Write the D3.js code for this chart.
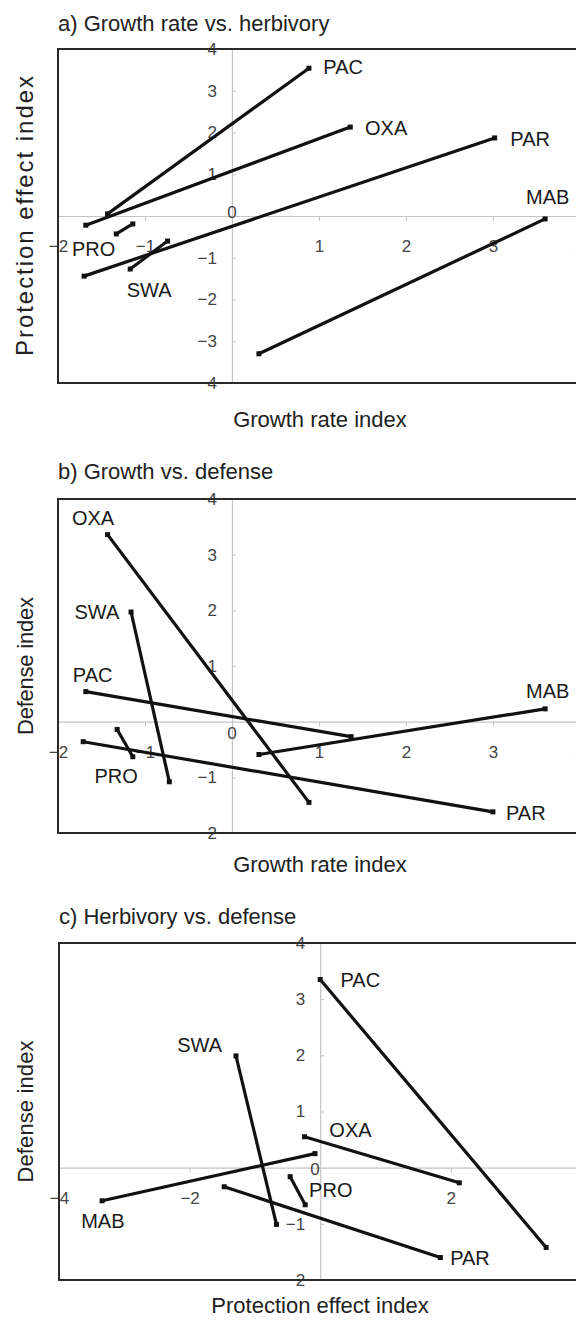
<!DOCTYPE html>
<html><head><meta charset="utf-8">
<script src="https://cdn.jsdelivr.net/npm/d3@7"></script>
<style>
body{margin:0;background:#fff}
svg{display:block}
text{font-family:"Liberation Sans", Arial, Helvetica, sans-serif}
</style>
</head><body>
<svg id="chart" width="576" height="1320"></svg>
<script>
// ---------- DATA ----------
// Panel a: Growth rate index (x) vs Protection effect index (y)
const aNames = ["PAC","OXA","PAR","MAB","SWA","PRO"];
const aX1 = [-1.43, -1.68, -1.70, 0.31, -1.17, -1.33];
const aY1 = [0.05, -0.22, -1.44, -3.30, -1.27, -0.43];
const aX2 = [0.885, 1.36, 3.02, 3.60, -0.74, -1.14];
const aY2 = [3.54, 2.13, 1.87, -0.07, -0.60, -0.19];
const aLabX = [1.05, 1.53, 3.20, 3.38, -1.21, -1.84];
const aLabY = [3.39, 1.95, 1.67, 0.28, -1.93, -0.97];

// Panel b: Growth rate index (x) vs Defense index (y)
const bNames = ["OXA","PAC","PAR","MAB","SWA","PRO"];
const bX1 = [-1.43, -1.68, -1.71, 0.31, -1.16, -1.32];
const bY1 = [3.36, 0.54, -0.36, -0.59, 1.97, -0.14];
const bX2 = [0.885, 1.37, 3.00, 3.60, -0.72, -1.14];
const bY2 = [-1.45, -0.27, -1.62, 0.23, -1.08, -0.63];
const bLabX = [-1.84, -1.83, 3.15, 3.38, -1.81, -1.58];
const bLabY = [3.54, 0.72, -1.76, 0.43, 1.85, -1.10];

// Panel c: Protection effect index (x) vs Defense index (y)
const cNames = ["PAC","OXA","PAR","MAB","SWA","PRO"];
const cX1 = [0.00, -0.24, -1.47, -3.34, -1.29, -0.46];
const cY1 = [3.35, 0.55, -0.34, -0.59, 1.99, -0.16];
const cX2 = [3.46, 2.13, 1.84, -0.08, -0.67, -0.23];
const cY2 = [-1.42, -0.27, -1.60, 0.25, -1.01, -0.66];
const cLabX = [0.31, 0.14, 1.99, -3.66, -2.19, -0.17];
const cLabY = [3.22, 0.55, -1.73, -1.07, 2.06, -0.52];

// Tick values
const abXTicks = [-2, -1, 1, 2, 3, 4];
const aYTicks = [-4, -3, -2, -1, 1, 2, 3, 4];
const bcYTicks = [-2, -1, 1, 2, 3, 4];
const cXTicks = [-4, -2, 2, 4];

const titles = ["a) Growth rate vs. herbivory", "b) Growth vs. defense", "c) Herbivory vs. defense"];
const xTitles = ["Growth rate index", "Growth rate index", "Protection effect index"];
const yTitles = ["Protection effect index", "Defense index", "Defense index"];

// ---------- LAYOUT ----------
const panels = [
  {names:aNames, x1:aX1, y1:aY1, x2:aX2, y2:aY2, lx:aLabX, ly:aLabY, xt:abXTicks, yt:aYTicks,
   xd:[-2,4.3], xr:[58,606], yd:[-4,4], yr:[383,49], title:titles[0], xTitle:xTitles[0], yTitle:yTitles[0],
   titleY:31, xTitleY:427, yTitleLen:280, yTitleSize:24, zero:[232,218]},
  {names:bNames, x1:bX1, y1:bY1, x2:bX2, y2:bY2, lx:bLabX, ly:bLabY, xt:abXTicks, yt:bcYTicks,
   xd:[-2,4.3], xr:[58,606], yd:[-2,4], yr:[833,499], title:titles[1], xTitle:xTitles[1], yTitle:yTitles[1],
   titleY:479, xTitleY:872, yTitleLen:138, yTitleSize:22, zero:[232,739]},
  {names:cNames, x1:cX1, y1:cY1, x2:cX2, y2:cY2, lx:cLabX, ly:cLabY, xt:cXTicks, yt:bcYTicks,
   xd:[-4,4.3], xr:[59,601], yd:[-2,4], yr:[1280,943], title:titles[2], xTitle:xTitles[2], yTitle:yTitles[2],
   titleY:924, xTitleY:1313, yTitleLen:142, yTitleSize:22, zero:[315,1175]}
];

const svg = d3.select("#chart");

panels.forEach(p => {
  const x = d3.scaleLinear().domain(p.xd).range(p.xr);
  const y = d3.scaleLinear().domain(p.yd).range(p.yr);
  const g = svg.append("g");
  const top = p.yr[1], bottom = p.yr[0], left = p.xr[0], right = p.xr[1];

  // title
  g.append("text").attr("x", left).attr("y", p.titleY)
    .attr("font-size", 22).attr("fill", "#222").text(p.title);

  // x axis through y=0
  const xAxis = d3.axisBottom(x).tickValues(p.xt).tickSizeInner(5).tickSizeOuter(0)
    .tickPadding(19).tickFormat(d => d < 0 ? "\u2212" + Math.abs(d) : d);
  const gx = g.append("g").attr("transform", `translate(0,${y(0)})`).call(xAxis);
  gx.select(".domain").attr("stroke", "#c4c4c4").attr("stroke-width", 1.2);
  gx.selectAll(".tick line").attr("stroke", "#c4c4c4");
  gx.selectAll(".tick text").attr("font-size", 17).attr("fill", "#444")
    .attr("font-family", '"Liberation Sans", Arial, sans-serif');

  // y axis through x=0
  const yAxis = d3.axisLeft(y).tickValues(p.yt).tickSizeInner(-4).tickSizeOuter(0)
    .tickPadding(15).tickFormat(d => d < 0 ? "\u2212" + Math.abs(d) : d);
  const gy = g.append("g").attr("transform", `translate(${x(0)},0)`).call(yAxis);
  gy.select(".domain").attr("stroke", "#c4c4c4").attr("stroke-width", 1.2);
  gy.selectAll(".tick line").attr("stroke", "#c4c4c4");
  gy.selectAll(".tick text").attr("font-size", 17).attr("fill", "#444")
    .attr("font-family", '"Liberation Sans", Arial, sans-serif');

  // zero label
  g.append("text").attr("x", p.zero[0]).attr("y", p.zero[1]).attr("text-anchor", "middle")
    .attr("font-size", 17).attr("fill", "#444").text("0");

  // plot box
  g.append("rect").attr("x", left).attr("y", top).attr("width", right - left).attr("height", bottom - top)
    .attr("fill", "none").attr("stroke", "#2a2a2a").attr("stroke-width", 2);

  // segments
  const idx = d3.range(p.names.length);
  g.selectAll("line.seg").data(idx).join("line").attr("class", "seg")
    .attr("x1", i => x(p.x1[i])).attr("y1", i => y(p.y1[i]))
    .attr("x2", i => x(p.x2[i])).attr("y2", i => y(p.y2[i]))
    .attr("stroke", "#111").attr("stroke-width", 3.2).attr("stroke-linecap", "butt");

  // endpoint markers
  const pts = idx.flatMap(i => [[p.x1[i], p.y1[i]], [p.x2[i], p.y2[i]]]);
  g.selectAll("rect.mk").data(pts).join("rect").attr("class", "mk")
    .attr("x", d => x(d[0]) - 2.5).attr("y", d => y(d[1]) - 2.5)
    .attr("width", 5).attr("height", 5).attr("fill", "#111");

  // species labels
  g.selectAll("text.lab").data(idx).join("text").attr("class", "lab")
    .attr("x", i => x(p.lx[i])).attr("y", i => y(p.ly[i]))
    .attr("font-size", 20).attr("fill", "#1a1a1a").text(i => p.names[i]);

  // axis titles
  g.append("text").attr("x", 320).attr("y", p.xTitleY).attr("text-anchor", "middle")
    .attr("font-size", 22).attr("fill", "#222").text(p.xTitle);
  const cy = (top + bottom) / 2;
  g.append("text").attr("transform", `translate(33,${cy}) rotate(-90)`).attr("text-anchor", "middle")
    .attr("font-size", p.yTitleSize).attr("fill", "#222")
    .attr("textLength", p.yTitleLen).attr("lengthAdjust", "spacing").text(p.yTitle);
});
</script>
</body></html>
